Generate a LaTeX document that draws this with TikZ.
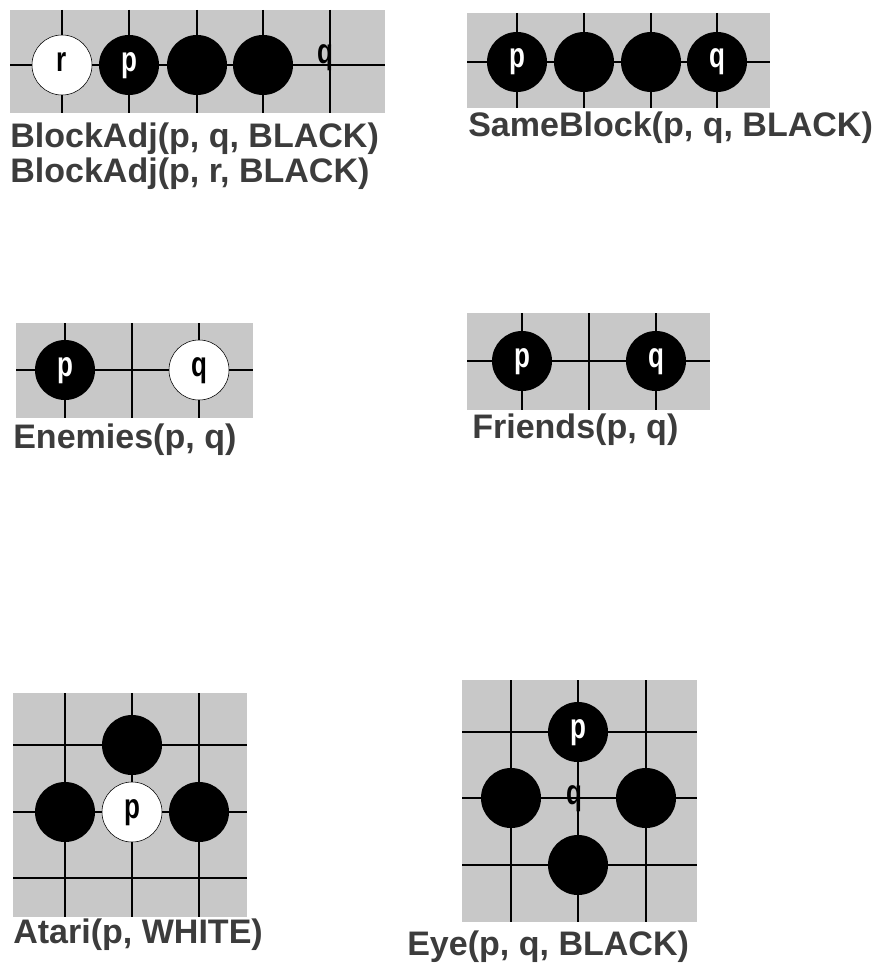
\documentclass[tikz,border=0pt]{standalone}
\usepackage{fontspec}
\setmainfont{Liberation Sans}
\newcommand{\stoneletter}[1]{\scalebox{0.74}[1]{#1}}

\begin{document}
\begin{tikzpicture}[x=0.025cm, y=-0.025cm]
% Styles
\tikzstyle{none} = []
\tikzstyle{board}=[fill={rgb,255: red,200; green,200; blue,200}]
\tikzstyle{gridline}=[-, draw=black, line width=1.4pt]
\tikzstyle{blackstone}=[fill=black, shape=circle, minimum size=1.5cm, inner sep=0cm, text height=0.55cm, text depth=0.25cm, text=white, font=\fontsize{25}{25}\selectfont\bfseries]
\tikzstyle{whitestone}=[fill=white, draw=black, thin, shape=circle, minimum size=1.5cm, inner sep=0cm, text height=0.55cm, text depth=0.25cm, text=black, font=\fontsize{25}{25}\selectfont\bfseries]
\tikzstyle{pointlabel}=[inner sep=0cm, text height=0.55cm, text depth=0.25cm, text=black, font=\fontsize{25}{25}\selectfont\bfseries]
\tikzstyle{caption}=[anchor=base west, inner sep=0cm, text={rgb,255: red,60; green,60; blue,60}, font=\fontsize{24.2}{24.2}\selectfont\bfseries]

\useasboundingbox (0, 0) rectangle (886, 965);

% BlockAdj board
\fill [style=board] (10, 10) rectangle (385, 113);
\draw [style=gridline] (10, 65) to (385, 65);
\draw [style=gridline] (62, 10) to (62, 113);
\draw [style=gridline] (129, 10) to (129, 113);
\draw [style=gridline] (197, 10) to (197, 113);
\draw [style=gridline] (263, 10) to (263, 113);
\draw [style=gridline] (330, 10) to (330, 113);
\node [style=whitestone] (adjR) at (62, 65) {\stoneletter{r}};
\node [style=blackstone] (adjP) at (129, 65) {\stoneletter{p}};
\node [style=blackstone] (adjB1) at (197, 65) {};
\node [style=blackstone] (adjB2) at (263, 65) {};
\node [style=pointlabel] (adjQ) at (325, 58) {\stoneletter{q}};
\node [style=caption] (adjText1) at (10, 148) {BlockAdj(p, q, BLACK)};
\node [style=caption] (adjText2) at (10, 182) {BlockAdj(p, r, BLACK)};

% SameBlock board
\fill [style=board] (467, 13) rectangle (770, 108);
\draw [style=gridline] (467, 62) to (770, 62);
\draw [style=gridline] (517, 13) to (517, 108);
\draw [style=gridline] (584, 13) to (584, 108);
\draw [style=gridline] (651, 13) to (651, 108);
\draw [style=gridline] (717, 13) to (717, 108);
\node [style=blackstone] (sameP) at (517, 62) {\stoneletter{p}};
\node [style=blackstone] (sameB1) at (584, 62) {};
\node [style=blackstone] (sameB2) at (651, 62) {};
\node [style=blackstone] (sameQ) at (717, 62) {\stoneletter{q}};
\node [style=caption] (sameText) at (468, 137) {SameBlock(p, q, BLACK)};

% Enemies board
\fill [style=board] (16, 323) rectangle (253, 418);
\draw [style=gridline] (16, 370) to (253, 370);
\draw [style=gridline] (65, 323) to (65, 418);
\draw [style=gridline] (132, 323) to (132, 418);
\draw [style=gridline] (199, 323) to (199, 418);
\node [style=blackstone] (enemP) at (65, 370) {\stoneletter{p}};
\node [style=whitestone] (enemQ) at (199, 370) {\stoneletter{q}};
\node [style=caption] (enemText) at (13, 448) {Enemies(p, q)};

% Friends board
\fill [style=board] (467, 313) rectangle (710, 410);
\draw [style=gridline] (467, 361) to (710, 361);
\draw [style=gridline] (522, 313) to (522, 410);
\draw [style=gridline] (589, 313) to (589, 410);
\draw [style=gridline] (656, 313) to (656, 410);
\node [style=blackstone] (friP) at (522, 361) {\stoneletter{p}};
\node [style=blackstone] (friQ) at (656, 361) {\stoneletter{q}};
\node [style=caption] (friText) at (472, 438) {Friends(p, q)};

% Atari board
\fill [style=board] (13, 693) rectangle (247, 917);
\draw [style=gridline] (13, 745) to (247, 745);
\draw [style=gridline] (13, 812) to (247, 812);
\draw [style=gridline] (13, 878) to (247, 878);
\draw [style=gridline] (65, 693) to (65, 917);
\draw [style=gridline] (132, 693) to (132, 917);
\draw [style=gridline] (199, 693) to (199, 917);
\node [style=blackstone] (atariN) at (132, 745) {};
\node [style=blackstone] (atariW) at (65, 812) {};
\node [style=whitestone] (atariP) at (132, 812) {\stoneletter{p}};
\node [style=blackstone] (atariE) at (199, 812) {};
\node [style=caption] (atariText) at (13, 943) {Atari(p, WHITE)};

% Eye board
\fill [style=board] (462, 680) rectangle (697, 922);
\draw [style=gridline] (462, 732) to (697, 732);
\draw [style=gridline] (462, 798) to (697, 798);
\draw [style=gridline] (462, 865) to (697, 865);
\draw [style=gridline] (511, 680) to (511, 922);
\draw [style=gridline] (578, 680) to (578, 922);
\draw [style=gridline] (646, 680) to (646, 922);
\node [style=blackstone] (eyeP) at (578, 732) {\stoneletter{p}};
\node [style=blackstone] (eyeW) at (511, 798) {};
\node [style=blackstone] (eyeE) at (646, 798) {};
\node [style=blackstone] (eyeS) at (578, 865) {};
\node [style=pointlabel] (eyeQ) at (574, 798) {\stoneletter{q}};
\node [style=caption] (eyeText) at (407, 955) {Eye(p, q, BLACK)};
\end{tikzpicture}
\end{document}
